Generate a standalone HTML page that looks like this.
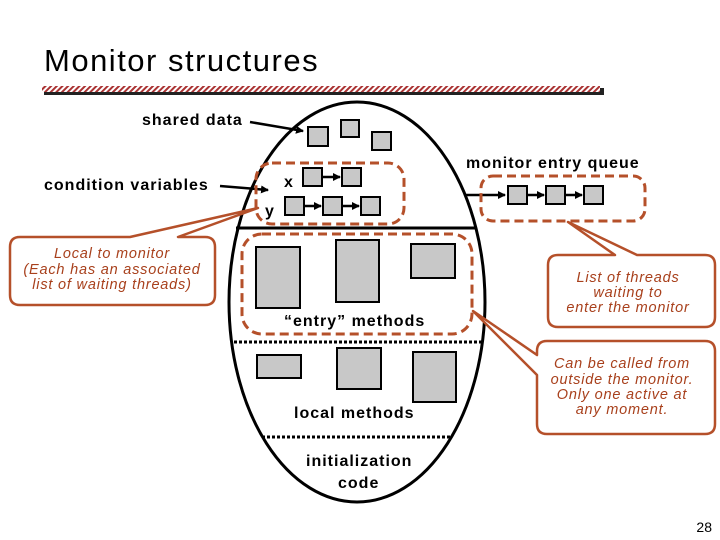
<!DOCTYPE html>
<html><head><style>
body{margin:0;background:#fff}
svg{display:block}
text{font-family:"Liberation Sans",sans-serif}
</style></head><body>
<svg width="720" height="540" viewBox="0 0 720 540" xmlns="http://www.w3.org/2000/svg">
<defs>
<pattern id="h" width="4" height="4" patternUnits="userSpaceOnUse" patternTransform="rotate(45)">
<rect width="4" height="4" fill="#fff"/><rect width="2" height="4" fill="#a33"/></pattern>
<marker id="a" markerWidth="8" markerHeight="8" refX="7" refY="4" orient="auto" markerUnits="userSpaceOnUse"><path d="M0,0L8,4L0,8z" fill="#000"/></marker>
</defs>
<text x="44" y="71" font-size="31" letter-spacing="1.5">Monitor structures</text>
<rect x="44" y="88" width="560" height="7" fill="#222"/>
<rect x="42" y="86" width="558" height="6" fill="url(#h)"/>

<ellipse cx="357" cy="302" rx="128" ry="200" fill="none" stroke="#000" stroke-width="3"/>
<line x1="236" y1="228" x2="476" y2="228" stroke="#000" stroke-width="3"/>
<line x1="234" y1="342" x2="482" y2="342" stroke="#000" stroke-width="3" stroke-dasharray="3,2"/>
<line x1="262" y1="437" x2="452" y2="437" stroke="#000" stroke-width="3" stroke-dasharray="3,2"/>

<g font-size="16" font-weight="bold" letter-spacing="1">
<text x="142" y="125">shared data</text>
<text x="44" y="190">condition variables</text>
<text x="466" y="168">monitor entry queue</text>
<text x="284" y="326">“entry” methods</text>
<text x="294" y="418">local methods</text>
<text x="306" y="466">initialization</text>
<text x="338" y="488">code</text>
<text x="284" y="187">x</text>
<text x="265" y="216">y</text>
</g>
<text x="712" y="532" font-size="14" text-anchor="end">28</text>

<line x1="250" y1="122" x2="303" y2="131" stroke="#000" stroke-width="2.5" marker-end="url(#a)"/>
<line x1="220" y1="186" x2="268" y2="190" stroke="#000" stroke-width="2.5" marker-end="url(#a)"/>
<line x1="466" y1="195" x2="505" y2="195" stroke="#000" stroke-width="2.5" marker-end="url(#a)"/>

<g fill="#c8c8c8" stroke="#000" stroke-width="2">
<rect x="308" y="127" width="20" height="19"/>
<rect x="341" y="120" width="18" height="17"/>
<rect x="372" y="132" width="19" height="18"/>
<rect x="303" y="168" width="19" height="18"/>
<rect x="342" y="168" width="19" height="18"/>
<rect x="285" y="197" width="19" height="18"/>
<rect x="323" y="197" width="19" height="18"/>
<rect x="361" y="197" width="19" height="18"/>
<rect x="508" y="186" width="19" height="18"/>
<rect x="546" y="186" width="19" height="18"/>
<rect x="584" y="186" width="19" height="18"/>
<rect x="256" y="247" width="44" height="61"/>
<rect x="336" y="240" width="43" height="62"/>
<rect x="411" y="244" width="44" height="34"/>
<rect x="257" y="355" width="44" height="23"/>
<rect x="337" y="348" width="44" height="41"/>
<rect x="413" y="352" width="43" height="50"/>
</g>
<g stroke="#000" stroke-width="2.5">
<line x1="322" y1="177" x2="340" y2="177" marker-end="url(#a)"/>
<line x1="304" y1="206" x2="321" y2="206" marker-end="url(#a)"/>
<line x1="342" y1="206" x2="359" y2="206" marker-end="url(#a)"/>
<line x1="527" y1="195" x2="544" y2="195" marker-end="url(#a)"/>
<line x1="565" y1="195" x2="582" y2="195" marker-end="url(#a)"/>
</g>

<g fill="none" stroke="#b5502a" stroke-width="3" stroke-dasharray="9,5">
<rect x="256" y="163" width="148" height="61" rx="16"/>
<rect x="481" y="176" width="164" height="45" rx="12"/>
<rect x="242" y="234" width="230" height="100" rx="20"/>
</g>

<g fill="#fff" stroke="#b5502a" stroke-width="2.5" stroke-linejoin="round">
<path d="M20,237 L130,237 L258,208 L178,237 L205,237 Q215,237 215,247 L215,295 Q215,305 205,305 L20,305 Q10,305 10,295 L10,247 Q10,237 20,237 Z"/>
<path d="M558,255 L615,255 L568,222 L637,255 L705,255 Q715,255 715,265 L715,317 Q715,327 705,327 L558,327 Q548,327 548,317 L548,265 Q548,255 558,255 Z"/>
<path d="M547,341 L705,341 Q715,341 715,351 L715,424 Q715,434 705,434 L547,434 Q537,434 537,424 L537,375 L473,311 L537,355 L537,351 Q537,341 547,341 Z"/>
</g>
<g fill="#a8401c" font-size="14.5" font-style="italic" text-anchor="middle" letter-spacing="0.8">
<text x="112" y="258">Local to monitor</text>
<text x="112" y="274">(Each has an associated</text>
<text x="112" y="289">list of waiting threads)</text>
<text x="628" y="282">List of threads</text>
<text x="628" y="297">waiting to</text>
<text x="628" y="312">enter the monitor</text>
<text x="622" y="368">Can be called from</text>
<text x="622" y="384">outside the monitor.</text>
<text x="622" y="399">Only one active at</text>
<text x="622" y="414">any moment.</text>
</g>
</svg>
</body></html>
